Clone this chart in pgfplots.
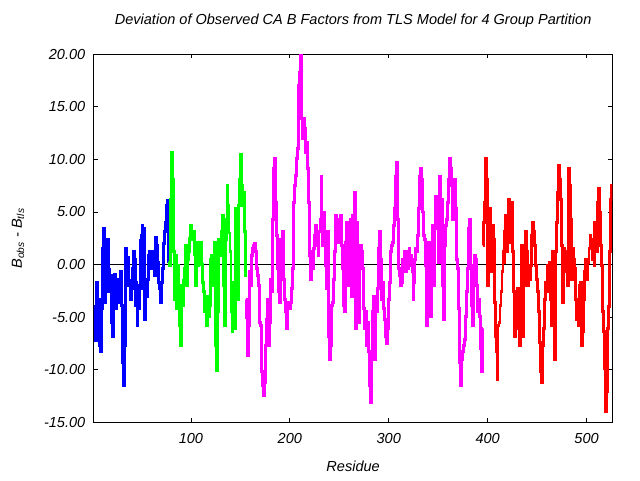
\documentclass[border=0pt]{standalone}
\usepackage{fontspec}
\setmainfont{Liberation Sans}
\usepackage{pgfplots}
\pgfplotsset{compat=1.18}
\definecolor{cblue}{RGB}{0,0,255}
\definecolor{cgreen}{RGB}{0,255,0}
\definecolor{cmag}{RGB}{255,0,255}
\definecolor{cred}{RGB}{255,0,0}
\begin{document}
\begin{tikzpicture}
\begin{axis}[
  at={(70.5pt,43.3pt)}, anchor=south west,
  scale only axis, width=388.7pt, height=276pt,
  xmin=2, xmax=526, ymin=-15, ymax=20,
  xtick={100,200,300,400,500},
  ytick={-15,-10,-5,0,5,10,15,20},
  major tick length=3pt,
  tick style={black, line width=0.6pt},
  axis line style={black, line width=0.75pt},
  font=\fontsize{10.9}{12}\selectfont\itshape,
  /pgf/number format/assume math mode=true,
  yticklabel style={/pgf/number format/fixed, /pgf/number format/fixed zerofill, /pgf/number format/precision=2},
  y tick label style={xshift=-3pt},
  x tick label style={yshift=-5pt},
  title={Deviation of Observed CA B Factors from TLS Model for 4 Group Partition},
  title style={at={(axis description cs:0.5,1.058)}, anchor=base},
  xlabel={Residue},
  xlabel style={at={(axis description cs:0.5,-0.134)}, anchor=base},
  ylabel={B\textsubscript{obs} {-} B\textsubscript{tls}},
  ylabel style={at={(axis description cs:-0.1466,0.5)}, anchor=center},
  every axis plot/.append style={line width=2.2pt, const plot mark mid, line join=miter},
]
\addplot[black, line width=0.6pt, sharp plot] coordinates {(2,0) (526,0)};
\addplot[cblue] table {
x y
2 -6.4
3 -4.0
4 -7.2
5 -1.7
6 -6.0
7 -3.3
8 -7.7
9 -8.3
10 -4.2
11 1.5
12 3.4
13 -3.6
14 1.8
15 -2.6
16 2.4
17 -0.5
18 -2.6
19 -1.0
20 -5.5
21 -6.8
22 -2.3
23 -0.9
24 -4.2
25 -1.4
26 -2.5
27 -3.6
28 -1.7
29 -0.7
30 -3.9
31 -9.3
32 -11.5
33 -7.7
34 1.5
35 -1.0
36 0.7
37 -2.0
38 -1.5
39 -3.3
40 -2.3
41 -0.4
42 1.2
43 0.5
44 -3.9
45 -1.7
46 -5.8
47 -2.0
48 -4.2
49 2.3
50 2.8
51 3.7
52 -2.3
53 3.4
54 -5.2
55 -1.4
56 -3.0
57 -1.4
58 0.9
59 1.2
60 -0.4
61 1.2
62 0.5
63 -0.1
64 -1.0
65 2.6
66 1.8
67 0.2
68 -1.7
69 -2.3
70 -3.6
71 -1.7
72 -0.4
73 2.0
74 3.1
75 4.0
76 5.6
77 6.1
78 0.3
};
\addplot[cgreen] table {
x y
78 0.3
79 -0.1
80 6.2
81 10.7
82 8.1
83 1.2
84 -3.3
85 0.9
86 -4.2
87 -0.1
88 -3.0
89 -5.8
90 -7.7
91 -2.0
92 -3.9
93 -1.5
94 -0.4
95 1.8
96 -2.0
97 0.5
98 1.2
99 2.5
100 3.7
101 3.1
102 2.4
103 3.1
104 1.0
105 -2.0
106 2.1
107 -0.1
108 1.2
109 0.5
110 2.1
111 0.0
112 -1.7
113 -2.6
114 -4.5
115 -3.0
116 -5.8
117 -3.0
118 -4.9
119 -3.9
120 0.5
121 0.9
122 -1.0
123 -2.0
124 2.1
125 -7.7
126 -10.1
127 -4.5
128 2.4
129 0.9
130 2.0
131 3.1
132 4.7
133 -2.0
134 -5.8
135 2.4
136 4.3
137 7.5
138 5.6
139 3.0
140 1.2
141 -4.5
142 -6.4
143 -1.7
144 -4.0
145 -6.1
146 5.3
147 3.1
148 -3.3
149 5.6
150 8.1
151 10.5
152 7.5
153 5.6
154 6.9
155 3.1
156 -1.0
};
\addplot[cmag] table {
x y
156 -3.3
157 -5.0
158 -8.7
159 -5.8
160 -0.7
161 -2.0
162 0.9
163 1.5
164 1.8
165 2.0
166 1.2
167 -0.4
168 -1.0
169 -2.0
170 -5.5
171 -5.8
172 -10.2
173 -11.5
174 -12.5
175 -11.2
176 -7.7
177 -5.2
178 -3.3
179 -7.7
180 -5.5
181 -1.4
182 -2.6
183 4.3
184 9.1
185 10.1
186 5.9
187 2.8
188 -0.4
189 -2.6
190 -3.6
191 2.4
192 2.0
193 3.1
194 -1.4
195 -3.3
196 -4.5
197 -6.1
198 -4.2
199 -3.6
200 -4.2
201 -3.6
202 -2.3
203 -0.4
204 5.9
205 7.5
206 8.5
207 10.1
208 11.0
209 17.0
210 18.3
211 19.9
212 13.9
213 12.0
214 13.9
215 12.9
216 10.7
217 11.6
218 9.1
219 5.9
220 0.9
221 -1.4
222 1.2
223 -0.4
224 1.5
225 2.8
226 3.7
227 1.8
228 3.1
229 0.9
230 3.1
231 4.3
232 8.4
233 3.1
234 1.8
235 5.0
236 2.4
237 -0.1
238 -2.3
239 3.1
240 -6.8
241 -9.0
242 -7.7
243 -3.9
244 -3.6
245 -1.4
246 1.2
247 4.7
248 2.4
249 4.3
250 2.1
251 3.7
252 4.7
253 1.8
254 -0.4
255 -3.9
256 -4.5
257 2.1
258 4.0
259 -2.0
260 -0.1
261 2.4
262 4.3
263 -3.0
264 4.7
265 -1.4
266 6.9
267 -6.1
268 4.0
269 -2.0
270 -5.5
271 1.5
272 1.8
273 1.2
274 -0.4
275 -4.2
276 -6.1
277 -4.5
278 -7.7
279 -5.5
280 -8.3
281 -11.5
282 -13.1
283 -8.3
284 -4.5
285 -3.0
286 -9.0
287 -4.2
288 -4.5
289 -2.3
290 1.5
291 3.1
292 0.5
293 -3.3
294 -1.7
295 -4.2
296 -5.2
297 -6.8
298 -7.5
299 -6.1
300 -3.3
301 -1.7
302 1.2
303 1.8
304 2.1
305 3.7
306 5.3
307 8.4
308 9.7
309 4.3
310 -0.4
311 -1.0
312 -2.0
313 -1.7
314 0.5
315 -0.1
316 1.2
317 -0.7
318 0.5
319 1.2
320 -0.4
321 1.5
322 -0.1
323 0.9
324 -0.7
325 -3.3
326 -1.7
327 0.5
328 1.5
329 1.2
330 2.8
331 5.3
332 8.4
333 9.1
334 8.1
335 5.0
336 2.8
337 2.4
338 -0.1
339 -5.8
340 1.8
341 2.1
342 -2.0
343 -4.9
344 1.8
345 3.7
346 -2.0
347 3.4
348 6.5
349 6.2
350 3.7
351 0.2
352 8.4
353 3.7
354 6.2
355 -2.0
356 -5.2
357 1.8
358 3.7
359 4.3
360 5.9
361 8.1
362 10.1
363 9.1
364 7.5
365 4.3
366 7.9
367 8.1
368 5.3
369 0.5
370 -0.4
371 -4.2
372 -9.3
373 -11.5
374 -9.0
375 -8.3
376 -7.7
377 -7.1
378 -4.9
379 -2.6
380 -0.4
381 3.4
382 4.3
383 -0.1
384 -3.9
385 -5.8
386 -2.0
387 0.9
388 0.5
389 -2.0
390 -4.5
391 -3.3
392 -4.9
393 -8.0
394 -10.2
395 -6.1
};
\addplot[cred] table {
x y
395 1.8
396 4.0
397 5.9
398 10.1
399 8.1
400 -2.0
401 5.3
402 5.3
403 1.2
404 -0.7
405 3.7
406 2.4
407 -3.6
408 -6.8
409 -8.3
410 -10.9
411 -5.8
412 -5.5
413 -3.9
414 -2.6
415 -0.7
416 1.2
417 0.2
418 3.1
419 4.7
420 1.2
421 4.7
422 6.2
423 5.6
424 2.1
425 5.9
426 1.2
427 -2.6
428 -6.8
429 -3.6
430 -5.2
431 -2.3
432 -6.1
433 -7.7
434 -2.6
435 1.8
436 -6.8
437 1.8
438 -2.0
439 3.1
440 1.2
441 -2.0
442 -0.7
443 -1.4
444 -0.1
445 2.8
446 4.0
447 3.1
448 1.8
449 -0.1
450 -1.4
451 -2.6
452 -4.5
453 -7.4
454 -10.2
455 -11.2
456 -7.7
457 -6.1
458 -3.3
459 -1.7
460 -2.6
461 -0.1
462 -2.0
463 0.2
464 -3.3
465 -5.8
466 1.2
467 -2.3
468 -9.0
469 1.2
470 4.0
471 6.9
472 9.4
473 8.1
474 6.2
475 1.8
476 -3.6
477 1.5
478 1.2
479 -0.7
480 0.9
481 -2.0
482 9.1
483 7.5
484 4.3
485 -1.4
486 1.5
487 0.5
488 -0.4
489 -3.3
490 -5.2
491 -4.5
492 -5.8
493 -2.0
494 -1.7
495 -7.7
496 -6.4
497 -3.3
498 -0.7
499 0.5
500 -1.4
501 0.2
502 0.5
503 1.5
504 2.8
505 2.4
506 0.5
507 1.2
508 -0.1
509 4.0
510 3.7
511 1.2
512 5.9
513 7.2
514 5.0
515 1.8
516 -0.1
517 -4.5
518 -6.4
519 -9.9
520 -14.0
521 -12.1
522 -6.1
523 -4.0
524 1.2
525 6.2
526 7.5
};
\end{axis}
\pgfresetboundingbox
\useasboundingbox (0,0) rectangle (480pt,360pt);
\end{tikzpicture}
\end{document}
